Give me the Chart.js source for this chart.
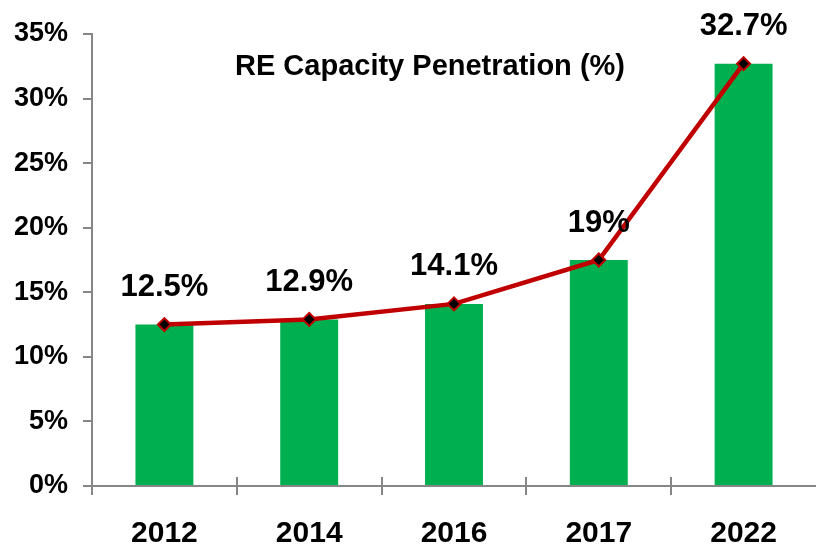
<!DOCTYPE html>
<html>
<head>
<meta charset="utf-8">
<script src="https://cdn.jsdelivr.net/npm/chart.js@4/dist/chart.umd.min.js"></script>
<style>
  html, body { margin: 0; padding: 0; background: #fff; }
  #wrap { width: 816px; height: 545px; }
</style>
</head>
<body>
<div id="wrap"><canvas id="chart"></canvas></div>
<script>
// RE capacity penetration chart

const years = ['2012', '2014', '2016', '2017', '2022'];
const penetration = [12.5, 12.9, 14.1, 17.5, 32.7];
const pointLabels = ['12.5%', '12.9%', '14.1%', '19%', '32.7%'];
const yTicks = [0, 5, 10, 15, 20, 25, 30, 35];
const chartTitle = 'RE Capacity Penetration (%)';

const FONT = '"Liberation Sans", Arial, sans-serif';
const AXIS_GRAY = '#868686';

// labels above each point + title inside plot
const labelPlugin = {
  id: 'labelPlugin',
  afterDatasetsDraw(chart) {
    const ctx = chart.ctx;
    const meta = chart.getDatasetMeta(1);
    ctx.save();
    ctx.fillStyle = '#000';
    ctx.font = 'bold 31px ' + FONT;
    ctx.textAlign = 'center';
    ctx.textBaseline = 'middle';
    meta.data.forEach((pt, i) => {
      ctx.fillText(pointLabels[i], pt.x, pt.y - 37);
    });
    ctx.font = 'bold 29px ' + FONT;
    ctx.fillText(chartTitle, 430, chart.chartArea.top + 33);
    ctx.restore();
  }
};

// x-axis tick marks crossing the axis line at category boundaries
// (the last boundary sits past the canvas edge in the original)
const crossTicks = {
  id: 'crossTicks',
  afterDraw(chart) {
    const ctx = chart.ctx;
    const xs = chart.scales.x;
    const y0 = chart.chartArea.bottom;
    ctx.save();
    ctx.strokeStyle = AXIS_GRAY;
    ctx.lineWidth = 2;
    for (let i = 0; i < years.length; i++) {
      const x = Math.round(xs.getPixelForValue(i - 0.5));
      ctx.beginPath();
      ctx.moveTo(x, y0 - 9);
      ctx.lineTo(x, y0 + 9);
      ctx.stroke();
    }
    ctx.restore();
  }
};

new Chart(document.getElementById('chart'), {
  type: 'bar',
  data: {
    labels: years,
    datasets: [
      {
        type: 'bar',
        data: penetration,
        backgroundColor: '#00B050',
        borderWidth: 0,
        barPercentage: 0.4,
        categoryPercentage: 1,
        order: 2
      },
      {
        type: 'line',
        data: penetration,
        borderColor: '#C00000',
        borderWidth: 4.5,
        tension: 0,
        pointStyle: 'rectRot',
        pointRadius: 6.5,
        pointBackgroundColor: '#000',
        pointBorderColor: '#C00000',
        pointBorderWidth: 2,
        order: 1
      }
    ]
  },
  options: {
    responsive: true,
    maintainAspectRatio: false,
    animation: false,
    layout: { autoPadding: false, padding: { top: 34, right: 0, left: 0, bottom: 0 } },
    plugins: {
      legend: { display: false },
      tooltip: { enabled: false }
    },
    scales: {
      x: {
        offset: true,
        grid: { display: false, offset: true },
        border: { color: AXIS_GRAY, width: 2 },
        ticks: {
          color: '#000',
          font: { family: FONT, size: 30, weight: 'bold' },
          padding: 22
        },
        afterFit: (s) => {
          s.height = 59;
          s.paddingLeft = 0;
          s.paddingRight = 0;
        }
      },
      y: {
        min: 0,
        max: 35,
        afterBuildTicks: (s) => { s.ticks = yTicks.map(v => ({ value: v })); },
        grid: {
          drawOnChartArea: false,
          tickLength: 9,
          color: AXIS_GRAY,
          lineWidth: 2
        },
        border: { color: AXIS_GRAY, width: 2 },
        ticks: {
          color: '#000',
          font: { family: FONT, size: 27, weight: 'bold' },
          padding: 15,
          callback: (v) => v + '%'
        },
        afterFit: (s) => { s.width = 92; }
      }
    }
  },
  plugins: [labelPlugin, crossTicks]
});
</script>
</body>
</html>
